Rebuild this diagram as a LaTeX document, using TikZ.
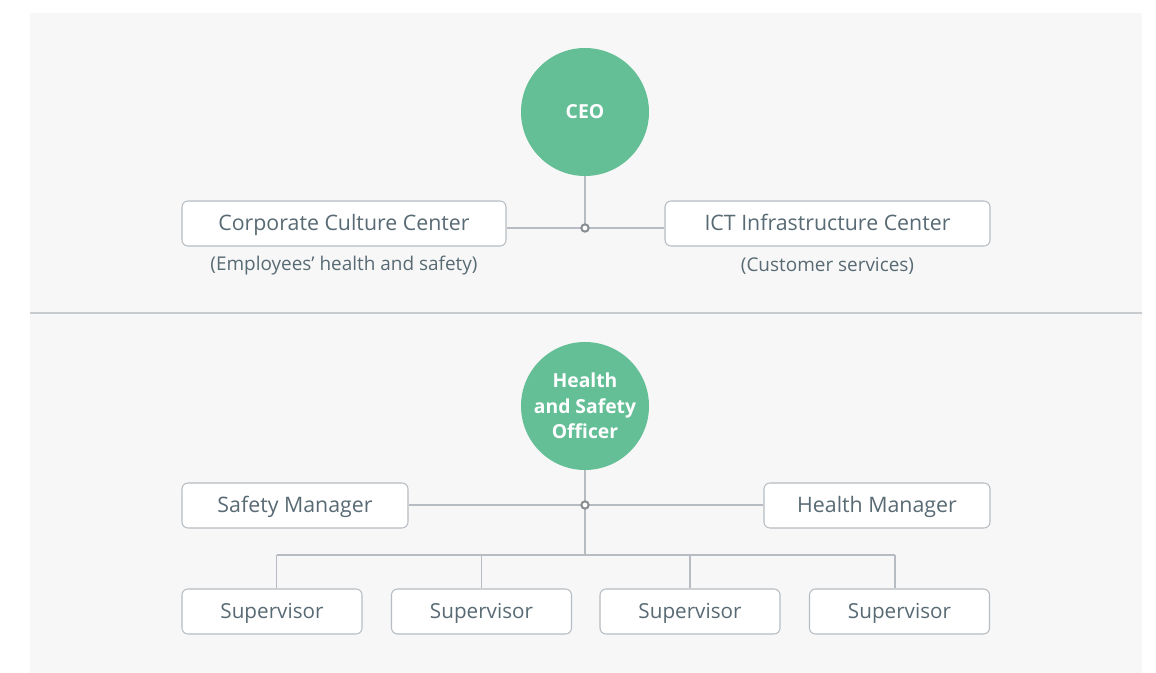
\documentclass[tikz,border=0pt]{standalone}
\usepackage{fontspec}
\setmainfont{Open Sans}
\definecolor{panel}{HTML}{F7F7F7}
\definecolor{green}{HTML}{64BF97}
\definecolor{edge}{HTML}{B6BCC1}
\definecolor{txt}{HTML}{586A73}
\definecolor{divider}{HTML}{C9CCCF}
\begin{document}
\begin{tikzpicture}[x=0.75pt,y=-0.75pt,
  circ/.style={circle,fill=green,minimum size=96pt,inner sep=0pt,text=white,font=\bfseries\fontsize{14.5}{19}\selectfont,align=center},
  box/.style={draw=edge,line width=0.8pt,fill=white,rounded corners=4.5pt,minimum height=33.75pt,inner sep=0pt,text height=12.6pt,text depth=2.4pt,text=txt,font=\fontsize{16}{19}\selectfont},
  sbox/.style={box,font=\fontsize{15.5}{19}\selectfont},
  sub/.style={text=txt,font=\fontsize{14.2}{17}\selectfont,inner sep=0pt},
  conn/.style={draw=edge,line width=0.9pt},
  junc/.style={circle,draw=edge!75!black,fill=white,line width=1.5pt,minimum size=5.5pt,inner sep=0pt}]
\useasboundingbox (0,0) rectangle (1156,673);
\fill[panel] (30,13) rectangle (1142,673);
\draw[divider,line width=1.6pt] (30,313) -- (1142,313);

% top section
\node[circ] (ceo) at (585,112) {CEO};
\node[box,minimum width=243pt] (ccc) at (344,223.5) {Corporate Culture Center};
\node[box,minimum width=243.75pt] (ict) at (827.5,223.5) {ICT Infrastructure Center};
\node[sub] (ccs) at (344,266) {(Employees’ health and safety)};
\node[sub] (icts) at (827.5,266) {(Customer services)};
\coordinate (j1) at (585,228);
\draw[conn] (ceo.south) -- (j1);
\draw[conn] (ccc.east |- j1) -- (ict.west |- j1);
\node[junc] (j1n) at (j1) {};

% bottom section
\node[circ] (hso) at (585,406) {Health\\and Safety\\Officer};
\node[box,minimum width=169.5pt] (sm) at (295,505.5) {Safety Manager};
\node[box,minimum width=169.5pt] (hm) at (877,505.5) {Health Manager};
\coordinate (j2) at (585,505);
\coordinate (bus) at (585,555);
\draw[conn] (sm.east |- j2) -- (hm.west |- j2);
\draw[conn] (hso.south) -- (bus);
\node[junc] (j2n) at (j2) {};

\node[sbox,minimum width=135pt] (s1) at (272,611.5) {Supervisor};
\node[sbox,minimum width=135pt] (s2) at (481.5,611.5) {Supervisor};
\node[sbox,minimum width=135pt] (s3) at (690,611.5) {Supervisor};
\node[sbox,minimum width=135pt] (s4) at (899.5,611.5) {Supervisor};
\coordinate (b1) at (276.5,555);
\coordinate (b4) at (895,555);
\draw[conn] (b1) -- (b4);
\draw[conn] (b1) -- (b1 |- s1.north);
\draw[conn] (s2.north |- bus) -- (s2.north);
\draw[conn] (s3.north |- bus) -- (s3.north);
\draw[conn] (b4) -- (b4 |- s4.north);
\end{tikzpicture}
\end{document}
